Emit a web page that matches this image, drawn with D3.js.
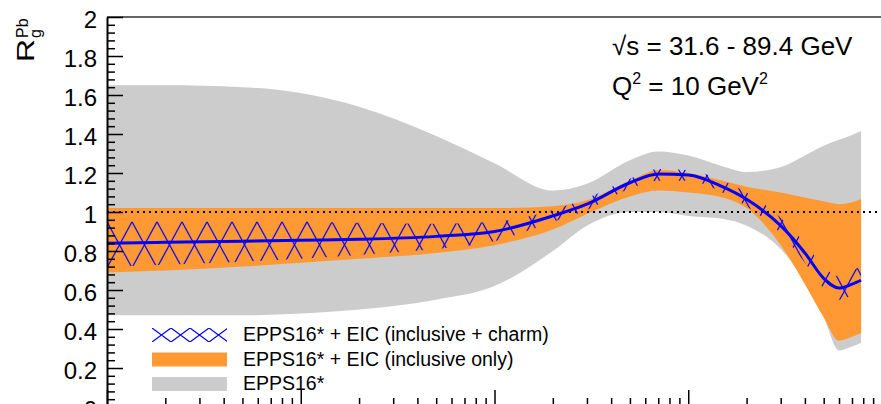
<!DOCTYPE html>
<html>
<head>
<meta charset="utf-8">
<script src="https://cdn.jsdelivr.net/npm/d3@7"></script>
<style>
  html, body { margin: 0; padding: 0; background: #fff; }
  svg { display: block; font-family: "Liberation Sans", Arial, Helvetica, sans-serif; }
</style>
</head>
<body>
<svg id="chart" width="881" height="404"></svg>
<script>
// Nuclear modification of the gluon PDF in lead, R_g^Pb(x), at Q^2 = 10 GeV^2
const xGrid = [1e-4, 2e-4, 5e-4, 1e-3, 2e-3, 5e-3, 0.01, 0.02, 0.03, 0.05, 0.07, 0.1, 0.15, 0.2, 0.3, 0.4, 0.5, 0.6, 0.7, 0.78];

// EPPS16* uncertainty band
const epps16Upper = [1.65, 1.65, 1.64, 1.61, 1.54, 1.39, 1.25, 1.11, 1.145, 1.265, 1.31, 1.29, 1.235, 1.205, 1.23, 1.29, 1.34, 1.37, 1.395, 1.415];
const epps16Lower = [0.47, 0.47, 0.47, 0.48, 0.50, 0.55, 0.62, 0.80, 0.93, 1.00, 1.00, 0.98, 0.965, 0.93, 0.81, 0.645, 0.46, 0.29, 0.31, 0.33];

// EPPS16* + EIC (inclusive only) band
const inclUpper = [1.02, 1.02, 1.02, 1.02, 1.02, 1.02, 1.02, 1.03, 1.06, 1.16, 1.215, 1.20, 1.16, 1.13, 1.10, 1.075, 1.055, 1.04, 1.05, 1.067];
const inclLower = [0.69, 0.70, 0.72, 0.74, 0.76, 0.79, 0.83, 0.91, 0.99, 1.08, 1.11, 1.10, 1.075, 1.02, 0.83, 0.63, 0.46, 0.34, 0.36, 0.38];

// EPPS16* + EIC (inclusive + charm) band and central value
const charmUpper = [0.95, 0.95, 0.95, 0.95, 0.945, 0.94, 0.95, 1.01, 1.07, 1.17, 1.22, 1.215, 1.16, 1.10, 0.97, 0.84, 0.72, 0.67, 0.70, 0.72];
const charmLower = [0.72, 0.73, 0.745, 0.76, 0.78, 0.81, 0.85, 0.95, 1.01, 1.12, 1.16, 1.16, 1.10, 1.03, 0.89, 0.74, 0.61, 0.55, 0.57, 0.58];
const central    = [0.84, 0.845, 0.85, 0.855, 0.86, 0.875, 0.90, 0.98, 1.04, 1.15, 1.195, 1.19, 1.13, 1.065, 0.93, 0.79, 0.66, 0.61, 0.63, 0.65];

// Axis ticks
const yMajor = [0, 0.2, 0.4, 0.6, 0.8, 1, 1.2, 1.4, 1.6, 1.8, 2];
const yMinor = d3.range(0, 2.0001, 0.04).map(v => +v.toFixed(2)).filter(v => !yMajor.includes(v));
const xMajor = [1e-4, 1e-3, 1e-2, 1e-1, 1];
const xMinor = [];
[1e-4, 1e-3, 1e-2, 1e-1].forEach(d => { for (let k = 2; k <= 9; k++) xMinor.push(d * k); });

const legendItems = [
  { label: "EPPS16* + EIC (inclusive + charm)", kind: "hatch" },
  { label: "EPPS16* + EIC (inclusive only)", kind: "orange" },
  { label: "EPPS16*", kind: "gray" }
];

const ORANGE = "#ff9933", GRAY = "#cccccc", BLUE = "#0000ff";

const svg = d3.select("#chart");
const x = d3.scaleLog().domain([1e-4, 1]).range([107, 882]);
const y = d3.scaleLinear().domain([0, 2]).range([407, 17]);

const defs = svg.append("defs");

// cross-hatch fill for the inclusive + charm band
function crossHatch(id, w, h, ox, oy) {
  const p = defs.append("pattern")
    .attr("id", id).attr("patternUnits", "userSpaceOnUse")
    .attr("x", ox).attr("y", oy).attr("width", w).attr("height", h);
  p.append("path")
    .attr("d", `M${-w},${-h}L${2 * w},${2 * h}M${-w},${2 * h}L${2 * w},${-h}`)
    .attr("stroke", BLUE).attr("stroke-width", 1.2).attr("fill", "none");
}
crossHatch("hatchBand", 25, 46, 107, y(0.95));
crossHatch("hatchLegend", 19, 14, 152, 328);

const pts = xGrid.map((xv, i) => i);
const band = (up, lo) => d3.area()
  .x(i => x(xGrid[i])).y0(i => y(lo[i])).y1(i => y(up[i]))
  .curve(d3.curveMonotoneX)(pts);

const plot = svg.append("g");
plot.append("path").attr("d", band(epps16Upper, epps16Lower)).attr("fill", GRAY);
plot.append("path").attr("d", band(inclUpper, inclLower)).attr("fill", ORANGE);

// reference line at R = 1
plot.append("line")
  .attr("x1", x(1e-4)).attr("x2", 881).attr("y1", y(1)).attr("y2", y(1))
  .attr("stroke", "#000").attr("stroke-width", 2).attr("stroke-dasharray", "2,4");

plot.append("path").attr("d", band(charmUpper, charmLower)).attr("fill", "url(#hatchBand)");

plot.append("path")
  .attr("d", d3.line().x(i => x(xGrid[i])).y(i => y(central[i])).curve(d3.curveMonotoneX)(pts))
  .attr("fill", "none").attr("stroke", BLUE).attr("stroke-width", 3);

// frame
svg.append("line").attr("x1", 107).attr("x2", 882).attr("y1", y(2)).attr("y2", y(2))
  .attr("stroke", "#333").attr("stroke-width", 1.5);

// y axis
const yAxis = svg.append("g").attr("transform", "translate(107,0)")
  .call(d3.axisLeft(y).tickValues(yMajor).tickSizeInner(-16).tickSizeOuter(0).tickPadding(10)
    .tickFormat(d => d3.format("~g")(d)));
svg.append("g").attr("transform", "translate(107,0)")
  .call(d3.axisLeft(y).tickValues(yMinor).tickSizeInner(-8).tickSizeOuter(0).tickFormat(""))
  .call(g => g.select(".domain").remove());
svg.selectAll("g .tick line").attr("stroke", "#000").attr("stroke-width", 1.5);
yAxis.select(".domain").attr("stroke", "#000").attr("stroke-width", 2);
yAxis.selectAll("text").attr("font-size", 24).attr("fill", "#000")
  .attr("font-family", "Liberation Sans, Arial, sans-serif").attr("dy", "0.42em");

// x axis (at the bottom, ticks pointing into the plot)
const xAxis = svg.append("g").attr("transform", `translate(0,${y(0)})`)
  .call(d3.axisBottom(x).tickValues(xMajor).tickSizeInner(-17).tickSizeOuter(0).tickFormat(""));
svg.append("g").attr("transform", `translate(0,${y(0)})`)
  .call(d3.axisBottom(x).tickValues(xMinor).tickSizeInner(-9).tickSizeOuter(0).tickFormat(""))
  .call(g => g.select(".domain").remove());
svg.selectAll("g .tick line").attr("stroke", "#000").attr("stroke-width", 1.5);
xAxis.select(".domain").attr("stroke", "#000").attr("stroke-width", 2);

// y-axis title R_g^Pb
const yt = svg.append("g").attr("transform", "rotate(-90)").attr("fill", "#000");
yt.append("text").attr("x", -62).attr("y", 34).attr("font-size", 23)
  .attr("textLength", 23).attr("lengthAdjust", "spacingAndGlyphs").text("R");
yt.append("text").attr("x", -38).attr("y", 41).attr("font-size", 16).text("g");
yt.append("text").attr("x", -38).attr("y", 28).attr("font-size", 16).text("Pb");

// kinematics annotation
const ann = svg.append("g").attr("fill", "#000").attr("font-size", 26);
const t1 = ann.append("text").attr("x", 612).attr("y", 55);
t1.append("tspan").text("\u221As = 31.6 - 89.4 GeV");
const t2 = ann.append("text").attr("x", 612).attr("y", 95);
t2.append("tspan").text("Q");
t2.append("tspan").attr("font-size", 16).attr("dy", -11).text("2");
t2.append("tspan").attr("dy", 11).text(" = 10 GeV");
t2.append("tspan").attr("font-size", 16).attr("dy", -11).text("2");

// legend
const lg = svg.append("g");
legendItems.forEach((d, i) => {
  const top = 328 + i * 24.5;
  const fill = d.kind === "hatch" ? "url(#hatchLegend)" : d.kind === "orange" ? ORANGE : GRAY;
  lg.append("rect").attr("x", 152).attr("y", top).attr("width", 75).attr("height", 14).attr("fill", fill);
  lg.append("text").attr("x", 243).attr("y", top + 13).attr("font-size", 19.5).attr("fill", "#000").text(d.label);
});
</script>
</body>
</html>
